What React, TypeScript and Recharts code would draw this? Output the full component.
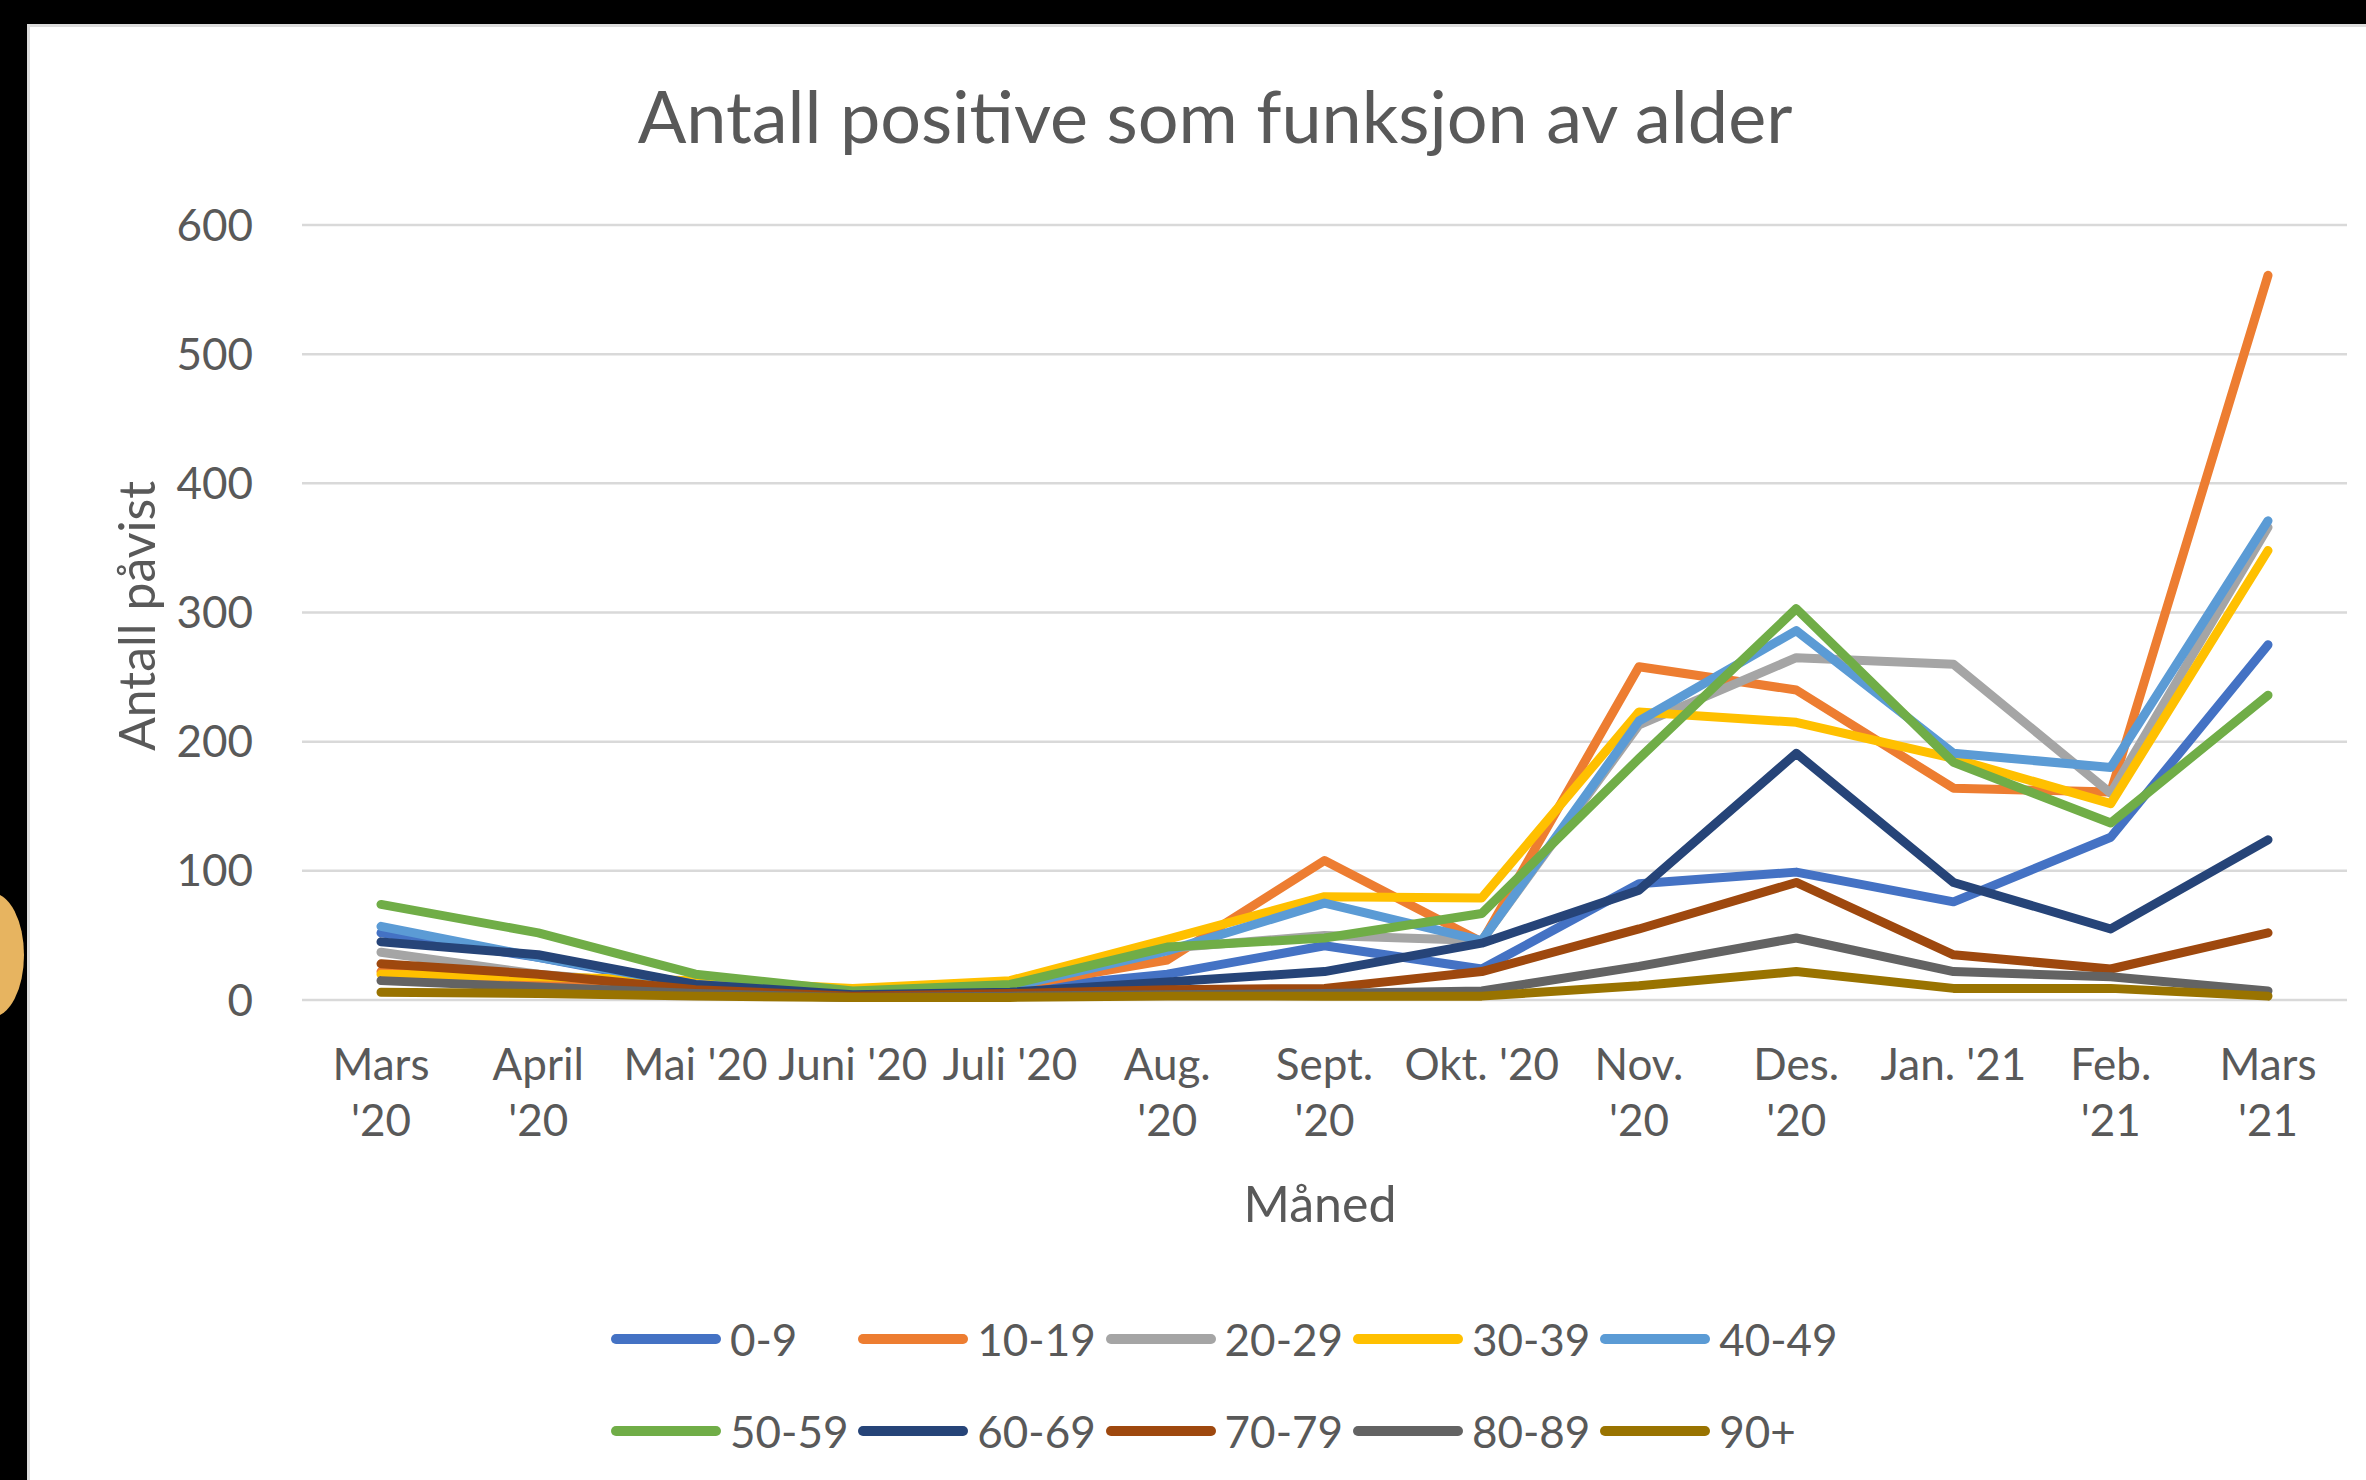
import React from "react";
import { LineChart, Line, XAxis, YAxis, CartesianGrid, Legend } from "recharts";

const months = [
  "Mars\n'20", "April\n'20", "Mai '20", "Juni '20", "Juli '20", "Aug.\n'20", "Sept.\n'20",
  "Okt. '20", "Nov.\n'20", "Des.\n'20", "Jan. '21", "Feb.\n'21", "Mars\n'21",
];

const seriesNames = ["0-9", "10-19", "20-29", "30-39", "40-49", "50-59", "60-69", "70-79", "80-89", "90+"];
const seriesColors = ["#4472C4", "#ED7D31", "#A5A5A5", "#FFC000", "#5B9BD5", "#70AD47", "#264478", "#9E480E", "#636363", "#997300"];

const s0_9 = [52, 33, 10, 5, 8, 20, 42, 24, 90, 99, 76, 126, 275];
const s10_19 = [22, 15, 10, 6, 10, 31, 108, 45, 258, 240, 164, 161, 561];
const s20_29 = [37, 20, 10, 5, 12, 40, 50, 46, 213, 265, 260, 160, 366];
const s30_39 = [20, 18, 15, 9, 15, 47, 80, 79, 223, 215, 187, 152, 348];
const s40_49 = [57, 33, 12, 5, 10, 38, 75, 46, 216, 286, 191, 180, 371];
const s50_59 = [74, 52, 20, 7, 12, 41, 48, 67, 187, 303, 184, 137, 236];
const s60_69 = [45, 35, 12, 4, 6, 14, 22, 44, 85, 191, 91, 55, 124];
const s70_79 = [28, 20, 8, 3, 5, 8, 9, 22, 55, 91, 35, 24, 52];
const s80_89 = [15, 10, 5, 2, 3, 4, 5, 7, 26, 48, 22, 18, 7];
const s90 = [6, 5, 3, 2, 2, 3, 3, 3, 11, 22, 9, 9, 3];

const allSeries = [s0_9, s10_19, s20_29, s30_39, s40_49, s50_59, s60_69, s70_79, s80_89, s90];
const yTicks = [0, 100, 200, 300, 400, 500, 600];

const data = months.map((m, i) => {
  const row: Record<string, string | number> = { month: m };
  seriesNames.forEach((n, k) => {
    row[n] = allSeries[k][i];
  });
  return row;
});

const TEXT = "#595959";
const FONT = "Lato, 'Open Sans', sans-serif";

const XTick = (props: any) => {
  const { x, y, payload } = props;
  const lines = String(payload.value).split("\n");
  return (
    <text x={x} y={y} textAnchor="middle" fill={TEXT} fontSize={44} fontFamily={FONT}>
      {lines.map((l, i) => (
        <tspan key={i} x={x} y={y + 80 + i * 56}>
          {l}
        </tspan>
      ))}
    </text>
  );
};

const LegendContent = (props: any) => {
  const { payload } = props;
  return (
    <div style={{ position: "relative", width: 2339, height: 200, fontFamily: FONT }}>
      {(payload || []).map((p: any, i: number) => {
        const col = i % 5;
        const row = Math.floor(i / 5);
        return (
          <div
            key={p.value}
            style={{
              position: "absolute",
              left: 584 + col * 247.3,
              top: 15 + row * 92,
              height: 60,
              display: "flex",
              alignItems: "center",
              whiteSpace: "nowrap",
            }}
          >
            <div style={{ width: 110, height: 10, background: p.color, borderRadius: 5 }} />
            <span style={{ marginLeft: 9, fontSize: 44, color: TEXT }}>{p.value}</span>
          </div>
        );
      })}
    </div>
  );
};

export default function App() {
  return (
    <div style={{ position: "absolute", left: 0, top: 0, width: 2366, height: 1480, background: "#000", overflow: "hidden" }}>
      <div
        style={{
          position: "absolute",
          left: -40,
          top: 893,
          width: 64,
          height: 124,
          borderRadius: "50%",
          background: "#e7b460",
        }}
      />
      <div
        style={{
          position: "absolute",
          left: 27,
          top: 24,
          width: 2339,
          height: 1456,
          background: "#fff",
          boxShadow: "inset 3px 3px 0 #dcdcdc",
          fontFamily: FONT,
        }}
      >
        <div
          style={{
            position: "absolute",
            left: 0,
            width: 2376,
            top: 48,
            lineHeight: "86px",
            textAlign: "center",
            fontSize: 72,
            color: TEXT,
            fontFamily: FONT,
          }}
        >
          Antall positive som funksjon av alder
        </div>
        <LineChart
          width={2339}
          height={1456}
          data={data}
          margin={{ top: 201, right: 19, bottom: 420, left: 0 }}
          style={{ fontFamily: FONT }}
        >
          <CartesianGrid horizontal vertical={false} stroke="#d9d9d9" strokeWidth={2.5} />
          <XAxis
            dataKey="month"
            height={60}
            axisLine={false}
            tickLine={false}
            tickSize={0}
            tickMargin={0}
            interval={0}
            padding={{ left: 79, right: 79 }}
            tick={<XTick />}
            label={{
              content: () => (
                <text x={1293} y={1179} textAnchor="middle" dominantBaseline="central" fill={TEXT} fontSize={50} fontFamily={FONT}>
                  Måned
                </text>
              ),
            }}
          />
          <YAxis
            width={275}
            domain={[0, 600]}
            ticks={yTicks}
            interval={0}
            axisLine={false}
            tickLine={false}
            tickSize={0}
            tickMargin={49}
            tick={{ fill: TEXT, fontSize: 44, fontFamily: FONT }}
            label={{
              content: () => (
                <text
                  x={109}
                  y={592}
                  transform="rotate(-90 109 592)"
                  textAnchor="middle"
                  dominantBaseline="central"
                  fill={TEXT}
                  fontSize={50}
                  fontFamily={FONT}
                >
                  Antall påvist
                </text>
              ),
            }}
          />
          <Legend
            verticalAlign="middle"
            layout="horizontal"
            wrapperStyle={{ left: 0, top: 1270, width: 2339 }}
            content={<LegendContent />}
          />
          {seriesNames.map((n, k) => (
            <Line
              key={n}
              type="linear"
              dataKey={n}
              stroke={seriesColors[k]}
              strokeWidth={9}
              strokeLinejoin="round"
              strokeLinecap="round"
              dot={false}
              activeDot={false}
              isAnimationActive={false}
            />
          ))}
        </LineChart>
      </div>
    </div>
  );
}
